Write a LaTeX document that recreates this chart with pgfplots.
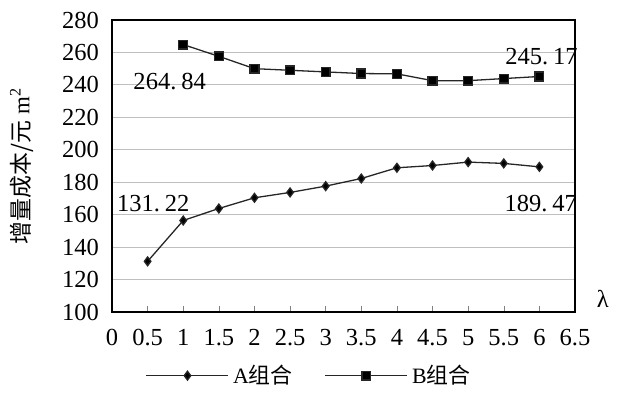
\documentclass[border=0pt]{standalone}
\usepackage{pgfplots}
\pgfplotsset{compat=1.18}
\usepackage{fontspec}
\setmainfont{Liberation Serif}
\newfontfamily\cjk{Noto Sans CJK SC}
\begin{document}
\begin{tikzpicture}
\useasboundingbox (-56bp,-41.5bp) rectangle (264bp,156bp);
\begin{axis}[
  at={(0,0)}, anchor=south west,
  scale only axis, width=231.5bp, height=146bp,
  xmin=0, xmax=6.5, ymin=100, ymax=280,
  xtick={0,0.5,1,1.5,2,2.5,3,3.5,4,4.5,5,5.5,6,6.5},
  ytick={100,120,...,280},
  ymajorgrids, grid style={black!25, line width=0.6pt},
  axis line style={black, line width=0.6pt},
  xtick pos=bottom, xtick align=inside, major tick length=3bp,
  ytick style={draw=none},
  tick label style={font=\fontsize{12.3}{14}\selectfont},
  /pgf/number format/assume math mode=true,
  xticklabel style={yshift=-5bp},
  yticklabel style={xshift=-3bp},
  clip=false,
  ylabel={{\cjk 增量成本/元}~m\textsuperscript{2}},
  ylabel style={at={(axis description cs:-0.195,0.5)}, anchor=center, font=\fontsize{11.5}{13}\selectfont},
  legend columns=2,
  legend style={draw=none, fill=none, at={(axis description cs:0.428,-0.218)}, anchor=center,
    font=\fontsize{11}{13}\selectfont,
    /tikz/every even column/.append style={column sep=14bp}},
  legend image code/.code={\draw[mark repeat=2,mark phase=2,#1] plot coordinates {(0bp,0bp)(20.5bp,0bp)(41bp,0bp)};},
]
\addplot[black!85, line width=0.65pt, mark=diamond*, mark size=2.2bp, mark options={solid, fill=black}] coordinates {
(0.5,131.22)(1,156.4)(1.5,163.8)(2,170.4)(2.5,173.7)(3,177.6)(3.5,182.3)(4,188.9)(4.5,190.3)(5,192.4)(5.5,191.6)(6,189.47)};
\addlegendentry{A{\cjk 组合}}
\addplot[black!85, line width=0.65pt, mark=square*, mark size=2.2bp, mark options={solid, fill=black}] coordinates {
(1,264.84)(1.5,257.6)(2,250.0)(2.5,249.0)(3,248.0)(3.5,247.0)(4,246.8)(4.5,242.6)(5,242.6)(5.5,243.9)(6,245.17)};
\addlegendentry{B{\cjk 组合}}
\node[font=\fontsize{12.3}{14}\selectfont] at (axis cs:0.81,241.8) {264.\kern2.5bp84};
\node[font=\fontsize{12.3}{14}\selectfont] at (axis cs:6.03,257.4) {245.\kern2.5bp17};
\node[font=\fontsize{12.3}{14}\selectfont] at (axis cs:0.58,167) {131.\kern2.5bp22};
\node[font=\fontsize{12.3}{14}\selectfont] at (axis cs:6.02,167) {189.\kern2.5bp47};
\node[font=\fontsize{12.3}{14}\selectfont] at (axis cs:6.89,108) {λ};
\end{axis}
\end{tikzpicture}
\end{document}
